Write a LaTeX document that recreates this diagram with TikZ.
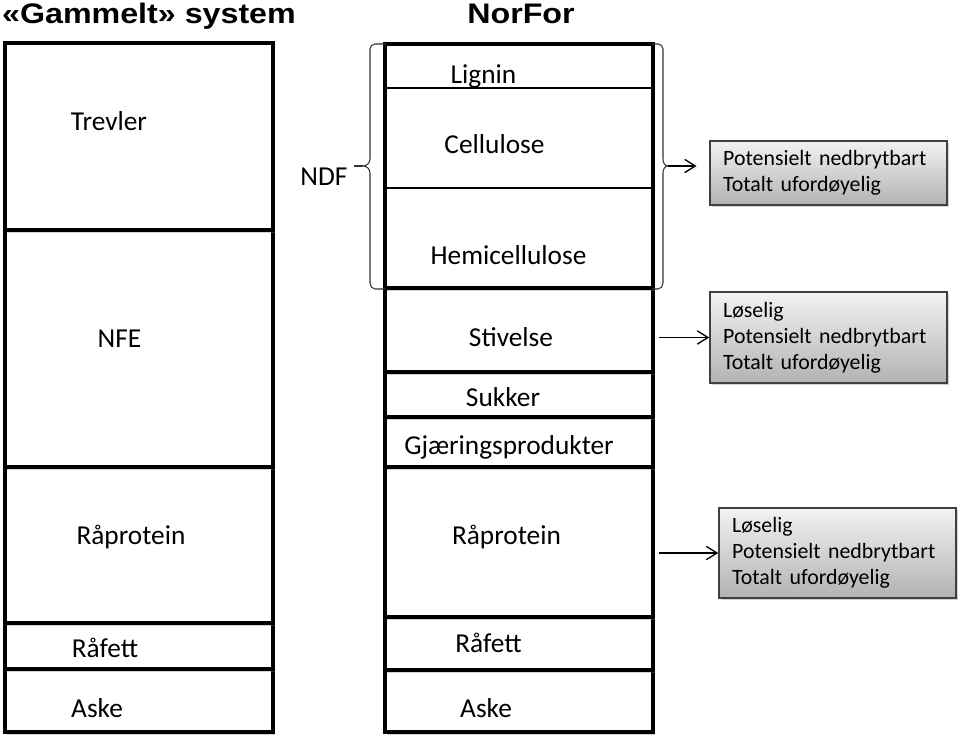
\documentclass[tikz,border=0pt]{standalone}
\usepackage{fontspec}
\setmainfont{Carlito}
\newfontfamily\titlefont{Liberation Sans}[FakeStretch=1.14]
\usetikzlibrary{arrows.meta,fit,shadows}
\begin{document}
\begin{tikzpicture}[x=0.75pt,y=-0.75pt,
  colbox/.style={draw, line width=2.6pt, fill=white, inner sep=0pt,
    drop shadow={shadow xshift=1.2pt, shadow yshift=-2.2pt, opacity=0.35}},
  lbl/.style={font=\fontsize{20.5}{24}\selectfont, inner sep=0pt, anchor=base},
  ttl/.style={font=\titlefont\bfseries\fontsize{21.2}{25}\selectfont, inner sep=0pt, anchor=base},
  infobox/.style={draw=black!75, line width=1.2pt, top color=black!5, bottom color=black!30,
    minimum width=177.75pt, text width=158pt, align=left, inner xsep=9.75pt,
    font=\fontsize{16.4}{19.5}\selectfont,
    drop shadow={shadow xshift=1.5pt, shadow yshift=-1.8pt, opacity=0.35}},
  arr/.style={-{Straight Barb[length=8pt,width=10pt]}, line width=1pt},
  brc/.style={line width=0.8pt, black!80},
  thin/.style={line width=0.9pt}]
\useasboundingbox (0,0) rectangle (960,735);

% titles
\node[ttl] (t1) at (149,23.5) {«Gammelt» system};
\node[ttl] (t2) at (521,23.5) {NorFor};

% left column (drawn bottom first)
\node[colbox, fit={(5,669) (273,732)}] (lAske) {};
\node[colbox, fit={(5,623) (273,669)}] (lFett) {};
\node[colbox, fit={(5,467) (273,623)}] (lProt) {};
\node[colbox, fit={(5,230) (273,467)}] (lNfe) {};
\node[colbox, fit={(5,43) (273,230)}] (lTrev) {};

% middle column
\node[colbox, fit={(385,670) (653,732)}] (mAske) {};
\node[colbox, fit={(385,617) (653,670)}] (mFett) {};
\node[colbox, fit={(385,467) (653,617)}] (mProt) {};
\node[colbox, fit={(385,417) (653,467)}] (mGjaer) {};
\node[colbox, fit={(385,372) (653,417)}] (mSukk) {};
\node[colbox, fit={(385,288) (653,372)}] (mStiv) {};
\node[colbox, fit={(385,44) (653,288)}] (mFib) {};
\coordinate (c1) at (500,88);
\coordinate (c2) at (500,188);
\draw[thin] (mFib.west |- c1) -- (mFib.east |- c1);
\draw[thin] (mFib.west |- c2) -- (mFib.east |- c2);

% left labels
\node[lbl] (tTrev) at (109,130) {Trevler};
\node[lbl] (tNfe) at (119.5,347) {NFE};
\node[lbl] (tLProt) at (131,544) {Råprotein};
\node[lbl] (tLFett) at (105,657) {Råfett};
\node[lbl] (tLAske) at (97,717) {Aske};

% middle labels
\node[lbl] (tLig) at (483.5,84) {Lignin};
\node[lbl] (tCel) at (494.5,153) {Cellulose};
\node[lbl] (tHem) at (508.5,264) {Hemicellulose};
\node[lbl] (tStiv) at (511,346) {Stivelse};
\node[lbl] (tSukk) at (503,406) {Sukker};
\node[lbl] (tGjaer) at (509,454) {Gjæringsprodukter};
\node[lbl] (tMProt) at (506.5,544) {Råprotein};
\node[lbl] (tMFett) at (488.5,652) {Råfett};
\node[lbl] (tMAske) at (486,717) {Aske};
\node[lbl] (tNdf) at (324,185) {NDF};

% braces
\draw[brc] (386,44) -- (375,44) to[out=180,in=90] (370,49) -- (370,159)
  to[out=-90,in=0] (363,166) to[out=0,in=90] (370,173) -- (370,283)
  to[out=-90,in=180] (375,289) -- (386,289);
\draw[brc] (363,166) -- (354,166);
\draw[brc] (652,44) -- (658,44) to[out=0,in=90] (663,49) -- (663,159)
  to[out=-90,in=180] (668,166) to[out=180,in=90] (663,173) -- (663,283)
  to[out=-90,in=0] (658,289) -- (652,289);
\coordinate (ndftip) at (668,166);

% info boxes
\node[infobox, minimum height=48pt] (p1) at (828.5,173)
  {Potensielt nedbrytbart\\Totalt ufordøyelig};
\node[infobox, minimum height=68.25pt] (p2) at (828.5,337.5)
  {Løselig\\Potensielt nedbrytbart\\Totalt ufordøyelig};
\node[infobox, minimum height=67.5pt] (p3) at (837.5,553)
  {Løselig\\Potensielt nedbrytbart\\Totalt ufordøyelig};

% arrows
\draw[arr, shorten >=9.5pt] (ndftip) -- (ndftip -| p1.west);
\draw[arr, shorten <=3pt] (mStiv.east |- p2.west) -- (p2.west);
\draw[arr, shorten <=3pt] (mProt.east |- p3.west) -- (p3.west);
\end{tikzpicture}
\end{document}
